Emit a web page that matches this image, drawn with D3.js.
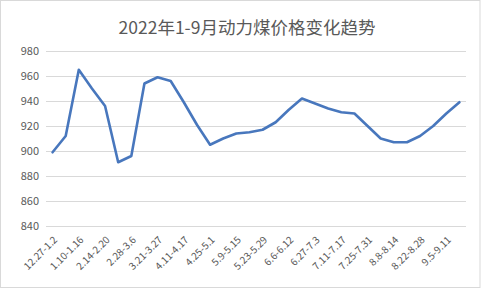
<!DOCTYPE html>
<html>
<head>
<meta charset="utf-8">
<script src="https://cdn.jsdelivr.net/npm/d3@7"></script>
<style>
  body { margin: 0; background: #fff; }
  text { font-family: "Noto Sans CJK SC", "DejaVu Sans", sans-serif; fill: #595959; }
</style>
</head>
<body>
<script>
// weekly categories (only every other one is labelled on the axis)
var weeks = ["12.27-1.2", "1.3-1.9", "1.10-1.16", "1.17-1.23", "2.14-2.20", "2.21-2.27",
  "2.28-3.6", "3.14-3.20", "3.21-3.27", "3.28-4.3", "4.11-4.17", "4.18-4.24",
  "4.25-5.1", "5.2-5.8", "5.9-5.15", "5.16-5.22", "5.23-5.29", "5.30-6.5",
  "6.6-6.12", "6.20-6.26", "6.27-7.3", "7.4-7.10", "7.11-7.17", "7.18-7.24",
  "7.25-7.31", "8.1-8.7", "8.8-8.14", "8.15-8.21", "8.22-8.28", "8.29-9.4",
  "9.5-9.11", "9.12-9.18"];
var prices = [899, 912, 965, 950, 936, 891, 896, 954, 959, 956, 939, 921,
  905, 910, 914, 915, 917, 923, 933, 942, 938, 934, 931, 930,
  920, 910, 907, 907, 912, 920, 930, 939];
var yTicks = [840, 860, 880, 900, 920, 940, 960, 980];
var title = "2022年1-9月动力煤价格变化趋势";

var width = 481, height = 289;

var svg = d3.select("body").append("svg")
    .attr("width", width)
    .attr("height", height);

svg.append("rect")
    .attr("x", 0.5).attr("y", 0.5)
    .attr("width", width - 1.5).attr("height", height - 2)
    .attr("fill", "#fff")
    .attr("stroke", "#d9d9d9");

var x = d3.scalePoint().domain(weeks).range([46, 466]).padding(0.5);
var y = d3.scaleLinear().domain([840, 980]).range([226, 51]);

// gridlines
svg.append("g")
  .selectAll("line")
  .data(yTicks)
  .join("line")
    .attr("x1", 46).attr("x2", 466)
    .attr("y1", function(d) { return Math.round(y(d)) + 0.5; })
    .attr("y2", function(d) { return Math.round(y(d)) + 0.5; })
    .attr("stroke", "#d9d9d9")
    .attr("stroke-width", 1);

// y labels
svg.append("g")
  .selectAll("text")
  .data(yTicks)
  .join("text")
    .attr("x", 39)
    .attr("y", function(d) { return y(d); })
    .attr("dy", "0.35em")
    .attr("text-anchor", "end")
    .attr("font-size", 11)
    .text(function(d) { return d; });

// x labels, every other week
svg.append("g")
  .selectAll("text")
  .data(weeks.filter(function(d, i) { return i % 2 === 0; }))
  .join("text")
    .attr("transform", function(d) { return "translate(" + (x(d) + 3) + ",238) rotate(-45)"; })
    .attr("dy", "0.35em")
    .attr("text-anchor", "end")
    .attr("font-size", 10)
    .text(function(d) { return d; });

var line = d3.line()
    .x(function(d, i) { return x(weeks[i]); })
    .y(function(d) { return y(d); });

svg.append("path")
    .datum(prices)
    .attr("fill", "none")
    .attr("stroke", "#4877bd")
    .attr("stroke-width", 2.6)
    .attr("stroke-linejoin", "round")
    .attr("stroke-linecap", "round")
    .attr("d", line);

svg.append("text")
    .attr("x", 247)
    .attr("y", 34)
    .attr("text-anchor", "middle")
    .attr("font-size", 17.5)
    .text(title);
</script>
</body>
</html>
